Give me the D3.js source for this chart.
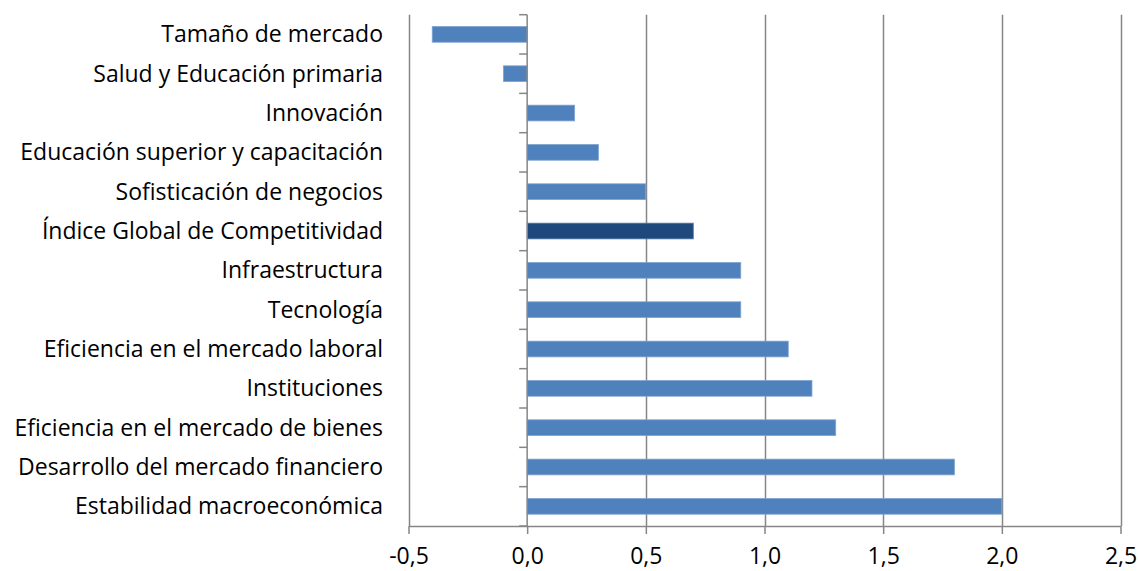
<!DOCTYPE html>
<html><head><meta charset="utf-8">
<script src="https://cdn.jsdelivr.net/npm/d3@7"></script>
<style>body{margin:0;background:#fff;} svg{display:block;}</style>
</head><body><svg id="c" width="1138" height="571"></svg>
<script>
const categories = ["Tamaño de mercado","Salud y Educación primaria","Innovación","Educación superior y capacitación","Sofisticación de negocios","Índice Global de Competitividad","Infraestructura","Tecnología","Eficiencia en el mercado laboral","Instituciones","Eficiencia en el mercado de bienes","Desarrollo del mercado financiero","Estabilidad macroeconómica"];
const values = [-0.4,-0.1,0.2,0.3,0.5,0.7,0.9,0.9,1.1,1.2,1.3,1.8,2.0];
const highlight = "Índice Global de Competitividad";
const xTicks = [-0.5,0,0.5,1.0,1.5,2.0,2.5];

(function(){
const svg = d3.select("#c");
const pLeft = 408.5, pRight = 1120.5, pTop = 14.7, pBottom = 526;
const x = d3.scaleLinear().domain([-0.5,2.5]).range([pLeft,pRight]);
const y = d3.scaleBand().domain(categories).range([pTop,pBottom]).paddingInner(0.6).paddingOuter(0.3);
const yb = d3.scaleBand().domain(categories).range([pTop,pBottom]);
const font = "'Open Sans', sans-serif";
const fs = 23;
const grid = "#868686";

svg.append("g").selectAll("line").data(xTicks.filter(d=>d!==0)).join("line")
  .attr("x1",d=>Math.round(x(d))+0.5).attr("x2",d=>Math.round(x(d))+0.5)
  .attr("y1",pTop).attr("y2",pBottom).attr("stroke",grid).attr("stroke-width",1.5);

svg.append("g").selectAll("rect").data(categories).join("rect")
  .attr("x",(d,i)=>x(Math.min(0,values[i])))
  .attr("width",(d,i)=>Math.abs(x(values[i])-x(0)))
  .attr("y",d=>y(d)).attr("height",y.bandwidth())
  .attr("fill",d=>d===highlight?"#1F497D":"#4F81BD")
  .attr("stroke",d=>d===highlight?"#5A7BA5":"#7FA3D0").attr("stroke-width",0.8);

const xAxis = d3.axisBottom(x).tickValues(xTicks).tickSize(8).tickSizeOuter(0)
  .tickFormat(d=>d3.format(".1f")(d).replace(".",",").replace("\u2212","-"));
const gx = svg.append("g").attr("transform",`translate(0,${pBottom})`).call(xAxis);
gx.select(".domain").attr("stroke",grid).attr("stroke-width",1.5);
gx.selectAll(".tick line").attr("stroke",grid).attr("stroke-width",1.5);
gx.selectAll("text").attr("font-family",font).attr("font-size",fs).attr("fill","#000").attr("y",0).attr("dy","1.65em");

const x0 = x(0);
svg.append("line").attr("x1",x0).attr("x2",x0).attr("y1",pTop).attr("y2",pBottom).attr("stroke",grid).attr("stroke-width",1.5);
const bounds = categories.map(c=>yb(c)).concat([pBottom]);
svg.append("g").selectAll("line").data(bounds).join("line")
  .attr("x1",x0-8).attr("x2",x0).attr("y1",d=>d).attr("y2",d=>d).attr("stroke",grid).attr("stroke-width",1.5);

svg.append("g").selectAll("text").data(categories).join("text")
  .attr("x",383).attr("y",d=>yb(d)+yb.bandwidth()/2).attr("dy","0.35em")
  .attr("text-anchor","end").attr("font-family",font).attr("font-size",fs).attr("fill","#000")
  .text(d=>d);
})();
</script></body></html>
